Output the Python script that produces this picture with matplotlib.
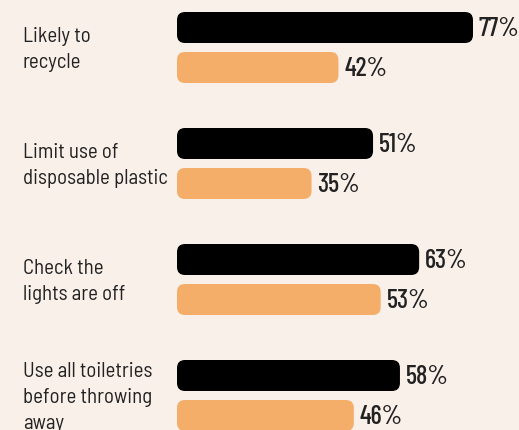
import matplotlib
matplotlib.use("Agg")
import matplotlib.pyplot as plt
from matplotlib.patches import FancyBboxPatch

categories = ["Likely to\nrecycle", "Limit use of\ndisposable plastic",
              "Check the\nlights are off", "Use all toiletries\nbefore throwing\naway"]
series_black = [77, 51, 63, 58]
series_orange = [42, 35, 53, 46]

BG = "#faf0ea"
BLACK = "#000000"
ORANGE = "#f5ae69"
TEXT = "#222222"
LABEL_FONT = ["Barlow Semi Condensed", "DejaVu Sans"]
VALUE_FONT = ["Barlow Condensed", "DejaVu Sans"]

W, H = 519, 430
fig = plt.figure(figsize=(W / 100, H / 100), dpi=100)
fig.patch.set_facecolor(BG)

x0 = 177
ax = fig.add_axes([x0 / W, 0, (W - x0) / W, 1])
ax.set_facecolor(BG)
px_per_unit = 3.844
xmax = (W - x0) / px_per_unit
ax.set_xlim(0, xmax)
ax.set_ylim(H, 0)
ax.axis("off")

group_step = 116
first_center = 27.5
gap = 40
bar_h = 31
radius_px = 8
aspect = px_per_unit

line_step = 26
cap_h = 14.5

for i, (b, o) in enumerate(zip(series_black, series_orange)):
    for j, (val, col) in enumerate([(b, BLACK), (o, ORANGE)]):
        yc = first_center + group_step * i + gap * j
        p = FancyBboxPatch((0, yc - bar_h / 2), val, bar_h,
                           boxstyle=f"round,pad=0,rounding_size={radius_px / px_per_unit}",
                           mutation_aspect=aspect, facecolor=col, edgecolor="none")
        ax.add_patch(p)
        ax.text(val + 6 / px_per_unit, yc + 1, f"{val}%", ha="left", va="center",
                fontsize=19, family=VALUE_FONT, weight="medium", color=TEXT)
    gc = first_center + group_step * i + gap / 2
    lines = categories[i].split("\n")
    n = len(lines)
    base0 = gc - (n - 1) * line_step / 2 + cap_h / 2
    for k, line in enumerate(lines):
        yb = base0 + k * line_step
        fig.text(23 / W, 1 - yb / H, line, ha="left", va="baseline",
                 fontsize=15, family=LABEL_FONT, color=TEXT)

fig.savefig("out.png", dpi=100, facecolor=BG)
